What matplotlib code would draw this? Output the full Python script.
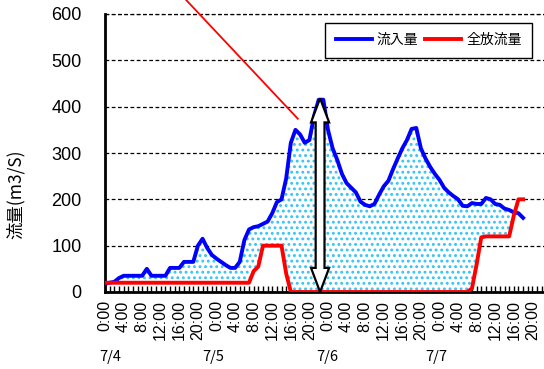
import matplotlib
matplotlib.use("Agg")
import matplotlib.pyplot as plt
import numpy as np
from matplotlib.patches import Polygon
from matplotlib.ticker import MultipleLocator, FixedLocator

# hourly values from 7/4 0:00
hours = np.arange(0, 91)
inflow = [18, 20, 22, 30, 35, 35, 35, 35, 35, 50,
          35, 35, 35, 35, 52, 52, 52, 65, 65, 65,
          100, 115, 95, 80, 72, 65, 58, 52, 52, 65,
          112, 135, 140, 142, 147, 152, 170, 194, 200, 245,
          322, 350, 340, 322, 328, 380, 415, 415, 350, 310,
          285, 255, 235, 225, 215, 195, 188, 185, 190, 210,
          228, 240, 265, 288, 310, 328, 352, 354, 310, 288,
          270, 255, 242, 225, 215, 207, 200, 186, 185, 192,
          190, 190, 203, 200, 190, 188, 180, 177, 172, 170,
          160]
release = [20] * 32 + [45, 55, 100, 100, 100, 100, 100, 40] + [0] * 39 + \
          [8, 60, 118, 120, 120, 120, 120, 120, 120, 165, 200, 200]

tick_hours = list(range(0, 93, 4))
tick_labels = ["%d:00" % (h % 24) for h in tick_hours]
date_labels = ["7/4", "7/5", "7/6", "7/7"]
date_pos = [1.1, 23.2, 47.8, 71.4]

peak_time = 46.3
peak_value = 418

inflow = np.array(inflow)
release = np.array(release)

plt.rcParams["hatch.linewidth"] = 1.3
plt.rcParams["hatch.color"] = "#33c4f5"

fig = plt.figure(figsize=(5.44, 3.69), dpi=100)
ax = fig.add_axes([105 / 544, 1 - 292 / 369, 1 - 105 / 544, 278 / 369])

ax.fill_between(hours, release, inflow, where=inflow >= release, interpolate=True,
                facecolor="white", edgecolor="#33c4f5", hatch="...", linewidth=0, zorder=1)

l1, = ax.plot(hours, inflow, color="#0000ff", lw=2.8, zorder=3, solid_joinstyle="round")
l2, = ax.plot(hours, release, color="#ff0000", lw=2.8, zorder=3, solid_joinstyle="round")

# hollow double arrow marking the peak
hw, sw, hl = 1.95, 0.95, 52
arrow = Polygon([
    (peak_time, peak_value), (peak_time + hw, peak_value - hl), (peak_time + sw, peak_value - hl),
    (peak_time + sw, hl), (peak_time + hw, hl), (peak_time, 0), (peak_time - hw, hl),
    (peak_time - sw, hl), (peak_time - sw, peak_value - hl), (peak_time - hw, peak_value - hl)],
    closed=True, facecolor="white", edgecolor="black", lw=1.6, zorder=5, clip_on=False)
ax.add_patch(arrow)

# leader line
ax.plot([17.4, 41.5], [631, 374], color="#ff0000", lw=1.3, clip_on=False, zorder=6)

ax.set_xlim(0, 94.5)
ax.set_ylim(0, 600)
ax.yaxis.set_major_locator(MultipleLocator(100))
ax.xaxis.set_major_locator(FixedLocator(tick_hours))
ax.xaxis.set_minor_locator(MultipleLocator(1))
ax.set_xticklabels(tick_labels, rotation=90, fontsize=11.5, family="Liberation Sans")
for lbl in ax.get_yticklabels():
    lbl.set_family("Liberation Sans")
ax.tick_params(axis="y", length=0, pad=17, labelsize=13)
ax.tick_params(axis="x", which="both", direction="in", length=4, width=1, pad=6, color="black")

ax.grid(axis="y", color="black", linestyle=(0, (3, 2)), lw=0.9)
ax.set_axisbelow(True)
ax.spines["top"].set_visible(False)
ax.spines["right"].set_visible(False)
ax.spines["left"].set_linewidth(2)
ax.spines["bottom"].set_linewidth(2)
ax.axhline(600, color="black", linestyle=(0, (3, 2)), lw=0.9, clip_on=False)

ax.set_ylabel("流量(m3/S)", family=["Noto Sans CJK JP", "DejaVu Sans"], fontsize=12.5)
ax.yaxis.set_label_coords(-0.182, 0.35)

for lab, pos in zip(date_labels, date_pos):
    ax.text(pos, -0.234, lab, transform=ax.get_xaxis_transform(), ha="center", va="center",
            fontsize=10.5, family=["Noto Sans CJK JP", "DejaVu Sans"])

leg = ax.legend([l1, l2], ["流入量", "全放流量"], ncol=2, loc="upper right",
                bbox_to_anchor=(0.973, 0.968), borderaxespad=0, fancybox=False, framealpha=1,
                edgecolor="black", handlelength=2.6, columnspacing=0.5, handletextpad=0.35,
                borderpad=0.75, prop={"family": ["Noto Sans CJK JP"], "size": 10})
leg.get_frame().set_linewidth(1)

fig.savefig("out.png", dpi=100)
